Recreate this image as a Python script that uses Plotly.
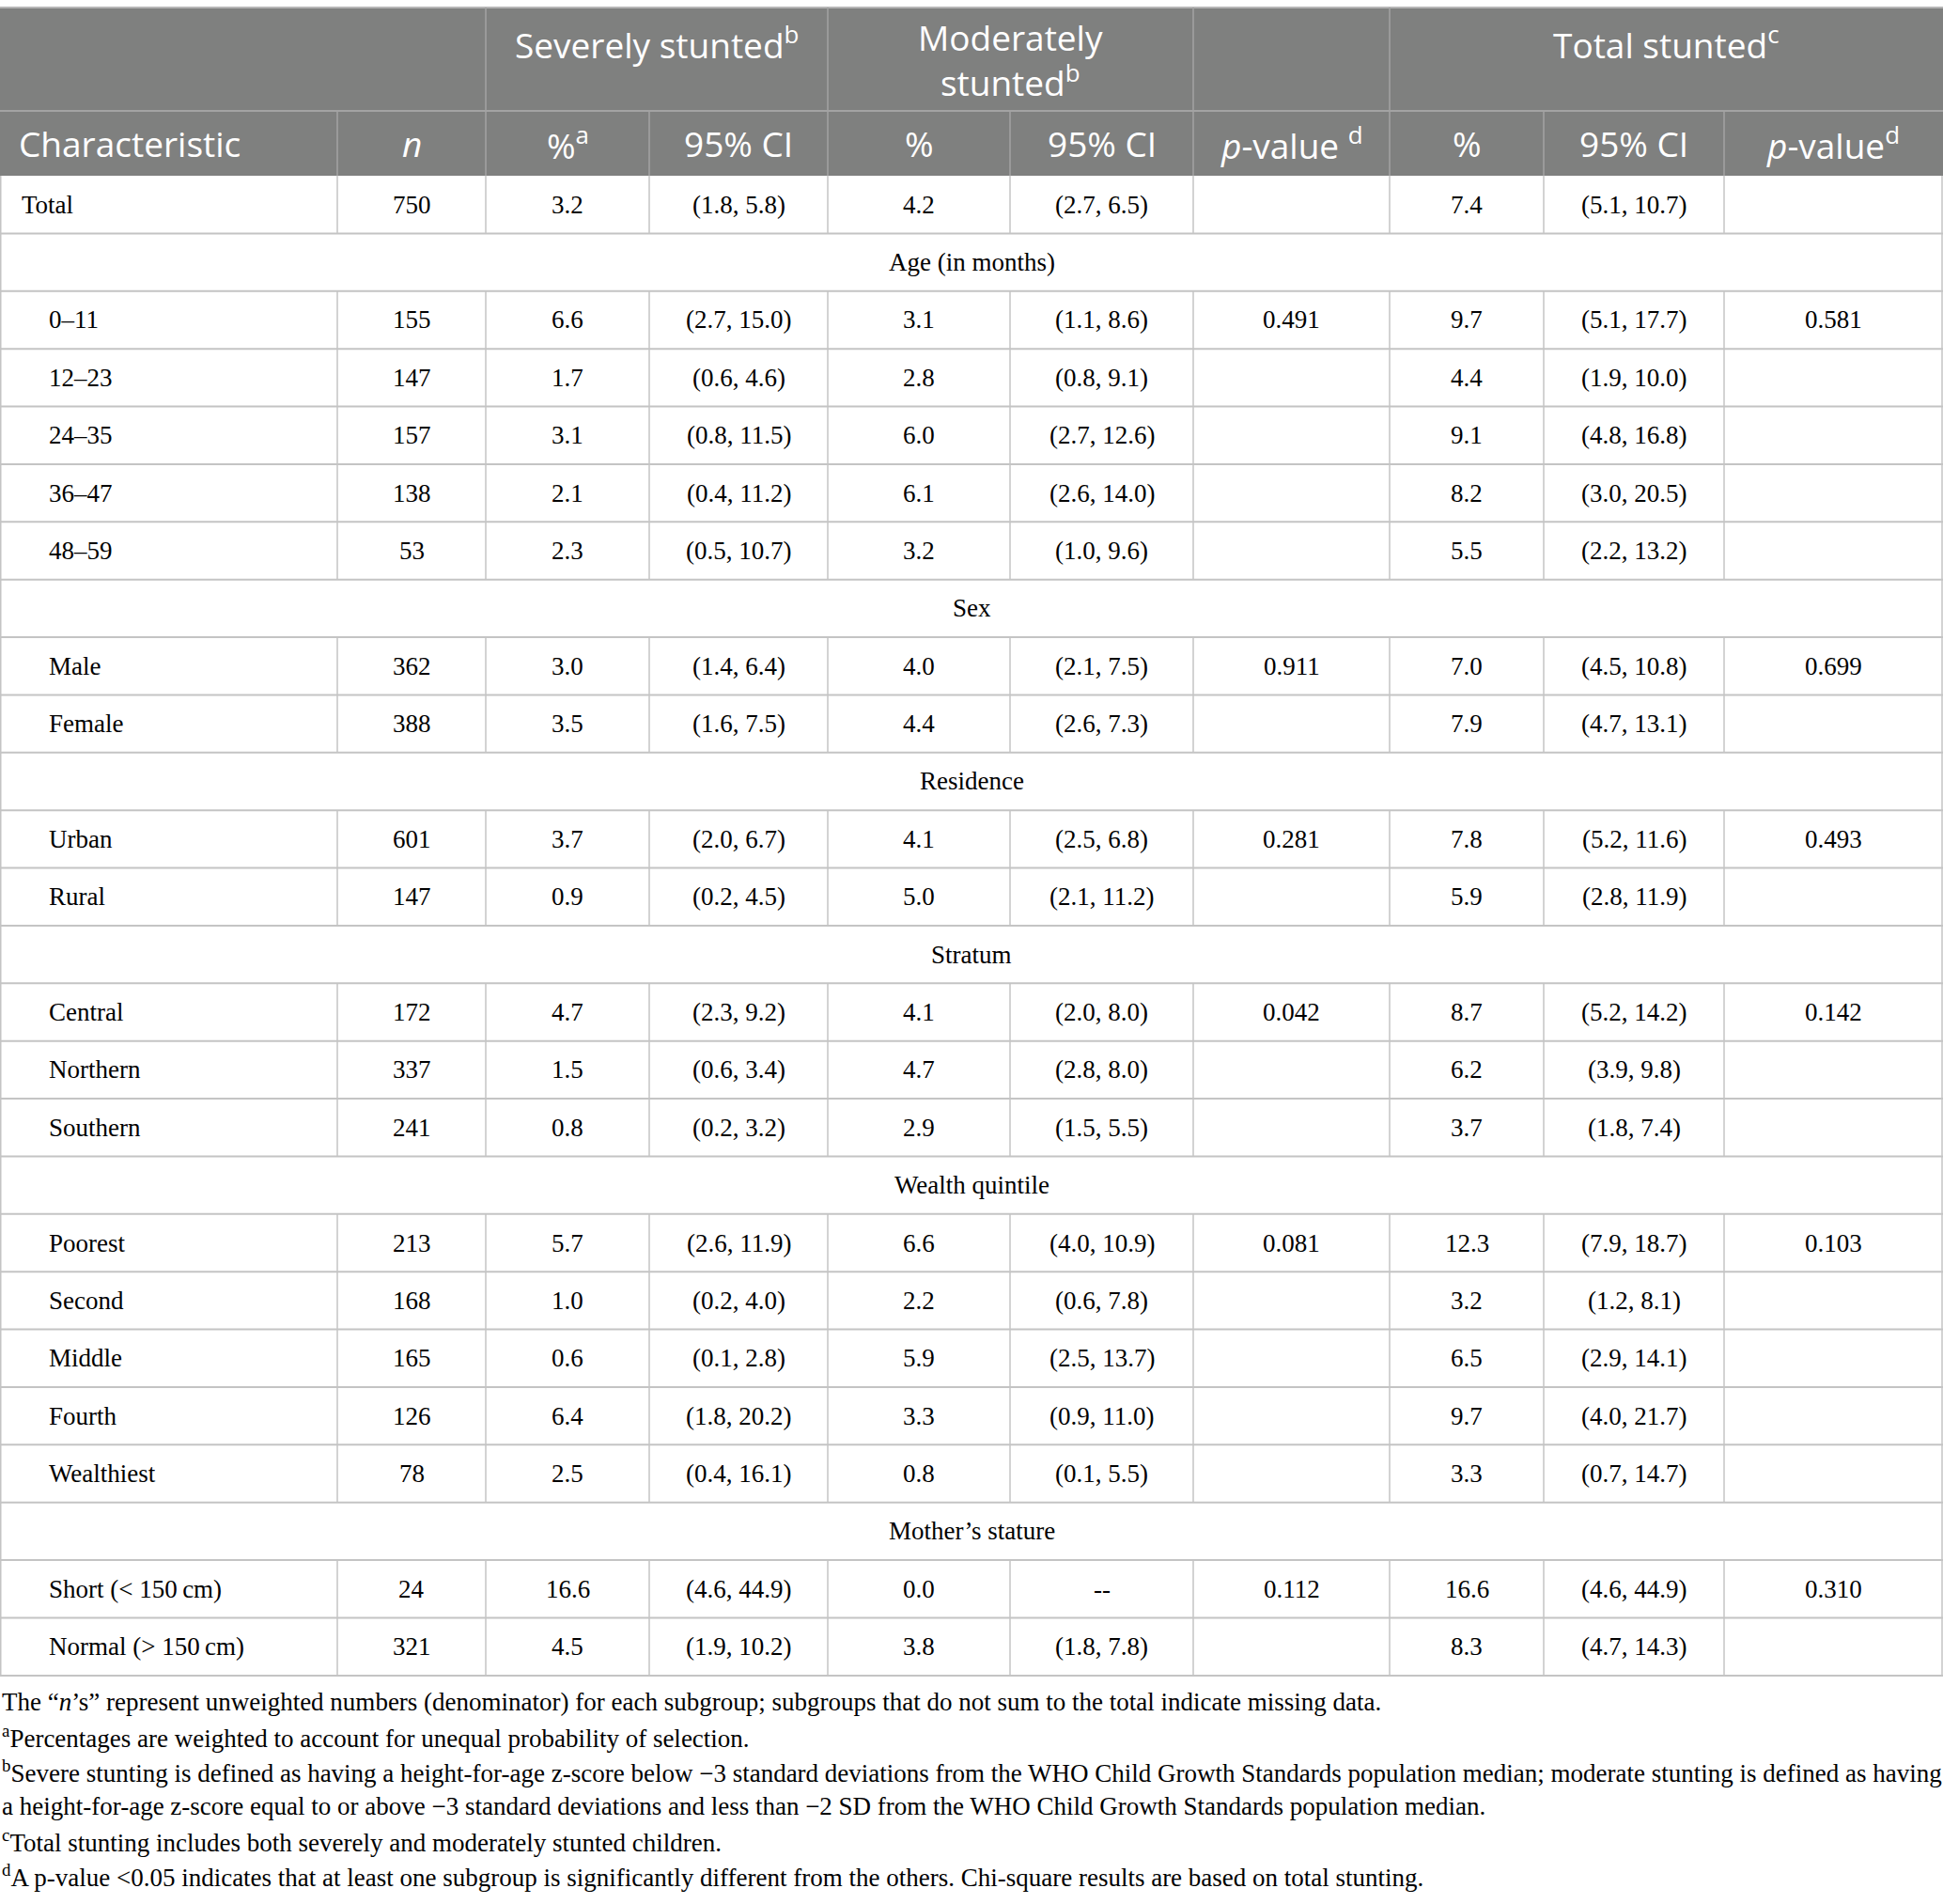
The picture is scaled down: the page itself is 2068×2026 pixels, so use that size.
import plotly.graph_objects as go

row_labels = ["Total", "0–11", "12–23", "24–35", "36–47", "48–59", "Male", "Female",
              "Urban", "Rural", "Central", "Northern", "Southern", "Poorest", "Second",
              "Middle", "Fourth", "Wealthiest", "Short (< 150\u2009cm)", "Normal (> 150\u2009cm)"]
row_groups = [None] + ["Age (in months)"] * 5 + ["Sex"] * 2 + ["Residence"] * 2 + \
             ["Stratum"] * 3 + ["Wealth quintile"] * 5 + ["Mother’s stature"] * 2
n_values = [750, 155, 147, 157, 138, 53, 362, 388, 601, 147, 172, 337, 241, 213, 168,
            165, 126, 78, 24, 321]
severe_pct = ["3.2", "6.6", "1.7", "3.1", "2.1", "2.3", "3.0", "3.5", "3.7", "0.9", "4.7",
              "1.5", "0.8", "5.7", "1.0", "0.6", "6.4", "2.5", "16.6", "4.5"]
severe_ci = ["(1.8, 5.8)", "(2.7, 15.0)", "(0.6, 4.6)", "(0.8, 11.5)", "(0.4, 11.2)",
             "(0.5, 10.7)", "(1.4, 6.4)", "(1.6, 7.5)", "(2.0, 6.7)", "(0.2, 4.5)",
             "(2.3, 9.2)", "(0.6, 3.4)", "(0.2, 3.2)", "(2.6, 11.9)", "(0.2, 4.0)",
             "(0.1, 2.8)", "(1.8, 20.2)", "(0.4, 16.1)", "(4.6, 44.9)", "(1.9, 10.2)"]
moderate_pct = ["4.2", "3.1", "2.8", "6.0", "6.1", "3.2", "4.0", "4.4", "4.1", "5.0", "4.1",
                "4.7", "2.9", "6.6", "2.2", "5.9", "3.3", "0.8", "0.0", "3.8"]
moderate_ci = ["(2.7, 6.5)", "(1.1, 8.6)", "(0.8, 9.1)", "(2.7, 12.6)", "(2.6, 14.0)",
               "(1.0, 9.6)", "(2.1, 7.5)", "(2.6, 7.3)", "(2.5, 6.8)", "(2.1, 11.2)",
               "(2.0, 8.0)", "(2.8, 8.0)", "(1.5, 5.5)", "(4.0, 10.9)", "(0.6, 7.8)",
               "(2.5, 13.7)", "(0.9, 11.0)", "(0.1, 5.5)", "--", "(1.8, 7.8)"]
moderate_p = ["", "0.491", "", "", "", "", "0.911", "", "0.281", "", "0.042", "", "",
              "0.081", "", "", "", "", "0.112", ""]
total_pct = ["7.4", "9.7", "4.4", "9.1", "8.2", "5.5", "7.0", "7.9", "7.8", "5.9", "8.7",
             "6.2", "3.7", "12.3", "3.2", "6.5", "9.7", "3.3", "16.6", "8.3"]
total_ci = ["(5.1, 10.7)", "(5.1, 17.7)", "(1.9, 10.0)", "(4.8, 16.8)", "(3.0, 20.5)",
            "(2.2, 13.2)", "(4.5, 10.8)", "(4.7, 13.1)", "(5.2, 11.6)", "(2.8, 11.9)",
            "(5.2, 14.2)", "(3.9, 9.8)", "(1.8, 7.4)", "(7.9, 18.7)", "(1.2, 8.1)",
            "(2.9, 14.1)", "(4.0, 21.7)", "(0.7, 14.7)", "(4.6, 44.9)", "(4.7, 14.3)"]
total_p = ["", "0.581", "", "", "", "", "0.699", "", "0.493", "", "0.142", "", "",
           "0.103", "", "", "", "", "0.310", ""]

column_heads = ["Characteristic", "<i>n</i>", "%<sup>a</sup>", "95% CI", "%", "95% CI",
                "<i>p</i>-value <sup>d</sup>", "%", "95% CI", "<i>p</i>-value<sup>d</sup>"]
footnotes = [
    "The “<i>n</i>’s” represent unweighted numbers (denominator) for each subgroup; subgroups that do not sum to the total indicate missing data.",
    "<sup>a</sup>Percentages are weighted to account for unequal probability of selection.",
    "<sup>b</sup>Severe stunting is defined as having a height-for-age z-score below −3 standard deviations from the WHO Child Growth Standards population median; moderate stunting is defined as having",
    "a height-for-age z-score equal to or above −3 standard deviations and less than −2 SD from the WHO Child Growth Standards population median.",
    "<sup>c</sup>Total stunting includes both severely and moderately stunted children.",
    "<sup>d</sup>A p-value <0.05 indicates that at least one subgroup is significantly different from the others. Chi-square results are based on total stunting.",
]

# ---- layout (pixel space) ----
W, H = 2068, 2026
col_edges = [0, 359, 517, 691, 881, 1075, 1270, 1479, 1643, 1835, 2067]
head_top, head_mid, body_top = 8, 118, 187
row_h = 61.38
HEAD_BG = "#7f807f"
HEAD_LINE = "#a3a3a3"
GRID = "#c4c4c4"
SERIF = "Liberation Serif"
SANS = "Open Sans"
BODY_SIZE = 27
HEAD_SIZE = 37
NOTE_SIZE = 27

shapes = []
annotations = []


def line(x0, y0, x1, y1, color=GRID, width=1.5):
    shapes.append(dict(type="line", x0=x0, y0=y0, x1=x1, y1=y1, layer="above",
                       line=dict(color=color, width=width)))


def text(x, y, s, size=BODY_SIZE, color="black", family=SERIF, anchor="center"):
    annotations.append(dict(x=x, y=y, text=s, showarrow=False, xanchor=anchor,
                            yanchor="middle", font=dict(size=size, color=color, family=family)))


def mid(a, b):
    return (col_edges[a] + col_edges[b]) / 2


# header block
shapes.append(dict(type="rect", x0=0, x1=W, y0=head_top, y1=body_top,
                   fillcolor=HEAD_BG, line=dict(width=0), layer="below"))
line(0, head_top, W, head_top, "#b5b5b5", 2)
line(0, head_mid, W, head_mid, HEAD_LINE, 2)
for e in [2, 4, 6, 7]:
    line(col_edges[e], head_top, col_edges[e], head_mid, HEAD_LINE, 1.5)
for e in range(1, len(col_edges) - 1):
    line(col_edges[e], head_mid, col_edges[e], body_top, HEAD_LINE, 1.5)

text(mid(2, 4), 45, "Severely stunted<sup>b</sup>", HEAD_SIZE, "white", SANS)
text(mid(4, 6), 63, "Moderately<br>stunted<sup>b</sup>", HEAD_SIZE, "white", SANS)
text(mid(7, 10), 45, "Total stunted<sup>c</sup>", HEAD_SIZE, "white", SANS)
head_y = (head_mid + body_top) / 2
text(18, head_y, column_heads[0], HEAD_SIZE, "white", SANS, "left")
for c in range(1, 10):
    text(mid(c, c + 1), head_y, column_heads[c], HEAD_SIZE, "white", SANS)

# body rows
body = []
prev = None
for i, grp in enumerate(row_groups):
    if grp is not None and grp != prev:
        body.append(("section", grp))
    body.append(("data", i))
    prev = grp

y = body_top
for kind, item in body:
    y0, y1 = y, y + row_h
    yc = (y0 + y1) / 2
    line(0, y1, W, y1, GRID, 2)
    line(col_edges[0] + 0.75, y0, col_edges[0] + 0.75, y1)
    line(col_edges[-1], y0, col_edges[-1], y1)
    if kind == "section":
        text(W / 2, yc, item)
    else:
        i = item
        for e in range(1, len(col_edges) - 1):
            line(col_edges[e], y0, col_edges[e], y1)
        indent = 21 if row_groups[i] is None else 50
        text(indent, yc, row_labels[i], anchor="left")
        cells = [str(n_values[i]), severe_pct[i], severe_ci[i], moderate_pct[i],
                 moderate_ci[i], moderate_p[i], total_pct[i], total_ci[i], total_p[i]]
        for c, s in enumerate(cells, start=1):
            if s:
                text(mid(c, c + 1), yc, s)
    y = y1

# notes under the table
note_y = [1811, 1848, 1885, 1922, 1959, 1996]
for s, ny in zip(footnotes, note_y):
    text(0, ny, s, NOTE_SIZE, anchor="left")

fig = go.Figure()
fig.update_layout(
    width=W, height=H,
    margin=dict(l=0, r=0, t=0, b=0),
    paper_bgcolor="white", plot_bgcolor="white",
    xaxis=dict(range=[0, W], visible=False, fixedrange=True),
    yaxis=dict(range=[H, 0], visible=False, fixedrange=True),
    shapes=shapes, annotations=annotations,
    showlegend=False,
)
# drop the default 8px page margin so the table sits flush with the window
fig.write_html("out.html", config={"displayModeBar": False},
               post_script="document.body.style.margin = '0';")
